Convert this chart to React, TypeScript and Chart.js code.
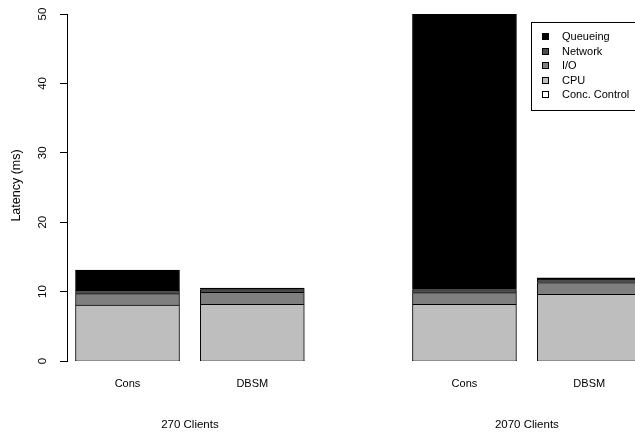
import React, { useEffect, useRef } from "react";
import { Chart, registerables } from "chart.js";

Chart.register(...registerables);

// ---- data ----
const barNames = ["Cons", "DBSM", "Cons", "DBSM"];
const groupNames = ["270 Clients", "2070 Clients"];
const componentNames = ["Conc. Control", "CPU", "I/O", "Network", "Queueing"]; // bottom to top
const concControl = [0.05, 0.05, 0.05, 0.05];
const cpu = [8.0, 8.1, 8.1, 9.55];
const io = [1.65, 1.75, 1.7, 1.7];
const network = [0.5, 0.4, 0.45, 0.5];
const queueing = [2.9, 0.2, 50, 0.2];
const yTickValues = [0, 10, 20, 30, 40, 50];
const yTitle = "Latency (ms)";

const componentColors = ["#ffffff", "#bebebe", "#7f7f7f", "#4d4d4d", "#000000"];

const FAMILY = "'Liberation Sans', Arial, Helvetica, sans-serif";
const FONT = "11px " + FAMILY;

// barplot-like layout (in bar-width units)
const SPACE_WITHIN = 0.2;
const SPACE_BETWEEN = 1.04;
function barCenters(): number[] {
  const centers: number[] = [];
  let left = 0;
  for (let i = 0; i < barNames.length; i++) {
    const sp = i === 0 ? SPACE_WITHIN : i % 2 === 0 ? SPACE_BETWEEN : SPACE_WITHIN;
    left += sp;
    centers.push(left + 0.5);
    left += 1;
  }
  return centers;
}

export default function App() {
  const ref = useRef<HTMLCanvasElement | null>(null);

  useEffect(() => {
    const canvas = ref.current;
    if (!canvas) return;
    const centers = barCenters();
    const series = [concControl, cpu, io, network, queueing];

    const datasets = series.map((vals, si) => ({
      label: componentNames[si],
      data: vals.map((v, i) => ({ x: centers[i], y: v })),
      backgroundColor: componentColors[si],
      borderColor: "#000000",
      borderWidth: 1,
      borderSkipped: si <= 1 ? false : "start",
      barThickness: 104,
      clip: 0,
    }));

    const overlay = {
      id: "overlay",
      afterDraw(chart: any) {
        const ctx = chart.ctx as CanvasRenderingContext2D;
        const xs = chart.scales.x;
        const ys = chart.scales.y;
        ctx.save();
        ctx.fillStyle = "#000";
        ctx.font = "11.5px " + FAMILY;
        // y tick labels, rotated
        yTickValues.forEach((v) => {
          const py = ys.getPixelForValue(v);
          ctx.save();
          ctx.translate(43, py);
          ctx.rotate(-Math.PI / 2);
          ctx.textAlign = "center";
          ctx.textBaseline = "middle";
          ctx.fillText(String(v), 0, 0);
          ctx.restore();
        });
        // y title
        ctx.save();
        ctx.font = "12.5px " + FAMILY;
        ctx.translate(17, (ys.top + ys.bottom) / 2 - 2);
        ctx.rotate(-Math.PI / 2);
        ctx.textAlign = "center";
        ctx.textBaseline = "middle";
        ctx.fillText(yTitle, 0, 0);
        ctx.restore();
        // group labels
        ctx.font = "11.5px " + FAMILY;
        ctx.textAlign = "center";
        ctx.textBaseline = "middle";
        groupNames.forEach((g, gi) => {
          const a = xs.getPixelForValue(centers[gi * 2]);
          const b = xs.getPixelForValue(centers[gi * 2 + 1]);
          ctx.fillText(g, (a + b) / 2, 425);
        });
        // legend
        ctx.font = FONT;
        ctx.lineWidth = 1;
        ctx.strokeStyle = "#000";
        ctx.strokeRect(531.5, 22.5, 120, 88);
        const order = componentNames.map((_, i) => componentNames.length - 1 - i);
        order.forEach((si, row) => {
          const cy = 37 + row * 14.5;
          ctx.fillStyle = componentColors[si];
          ctx.fillRect(542.5, Math.round(cy) - 3.5, 6, 6);
          ctx.strokeStyle = "#000";
          ctx.strokeRect(542.5, Math.round(cy) - 3.5, 6, 6);
          ctx.fillStyle = "#000";
          ctx.textAlign = "left";
          ctx.fillText(componentNames[si], 562, cy);
        });
        ctx.restore();
      },
    };

    const xMin = 0.7 - 60.5 / 104;
    const xMax = 0.7 + (635 - 127.5) / 104;

    const chart = new Chart(canvas, {
      type: "bar",
      data: { datasets: datasets as any },
      options: {
        animation: false,
        responsive: false,
        events: [],
        devicePixelRatio: 1,
        layout: { padding: { top: 14, left: 0, right: 0, bottom: 0 } },
        plugins: { legend: { display: false }, tooltip: { enabled: false } },
        scales: {
          x: {
            type: "linear",
            stacked: true,
            offset: false,
            min: xMin,
            max: xMax,
            grid: { display: false, drawTicks: false, offset: false },
            border: { display: false },
            afterBuildTicks: (scale: any) => {
              scale.ticks = centers.map((v) => ({ value: v }));
            },
            afterFit: (scale: any) => {
              scale.height = 71;
            },
            ticks: {
              autoSkip: false,
              maxRotation: 0,
              minRotation: 0,
              padding: 16,
              color: "#000",
              font: { family: FAMILY, size: 11 },
              callback: (_v: any, i: number) => barNames[i],
            },
          },
          y: {
            type: "linear",
            stacked: true,
            min: 0,
            max: 50,
            afterBuildTicks: (scale: any) => {
              scale.ticks = yTickValues.map((v) => ({ value: v }));
            },
            afterFit: (scale: any) => {
              scale.width = 67;
            },
            grid: {
              display: true,
              drawOnChartArea: false,
              drawTicks: true,
              tickLength: 7,
              color: "#000",
              lineWidth: 1,
            },
            border: { display: true, color: "#000", width: 1 },
            ticks: { display: false },
          },
        },
      },
      plugins: [overlay],
    });
    return () => chart.destroy();
  }, []);

  return (
    <div style={{ position: "fixed", left: 0, top: 0, width: 635, height: 432, overflow: "hidden", background: "#fff" }}>
      <canvas ref={ref} width={635} height={432} />
    </div>
  );
}
